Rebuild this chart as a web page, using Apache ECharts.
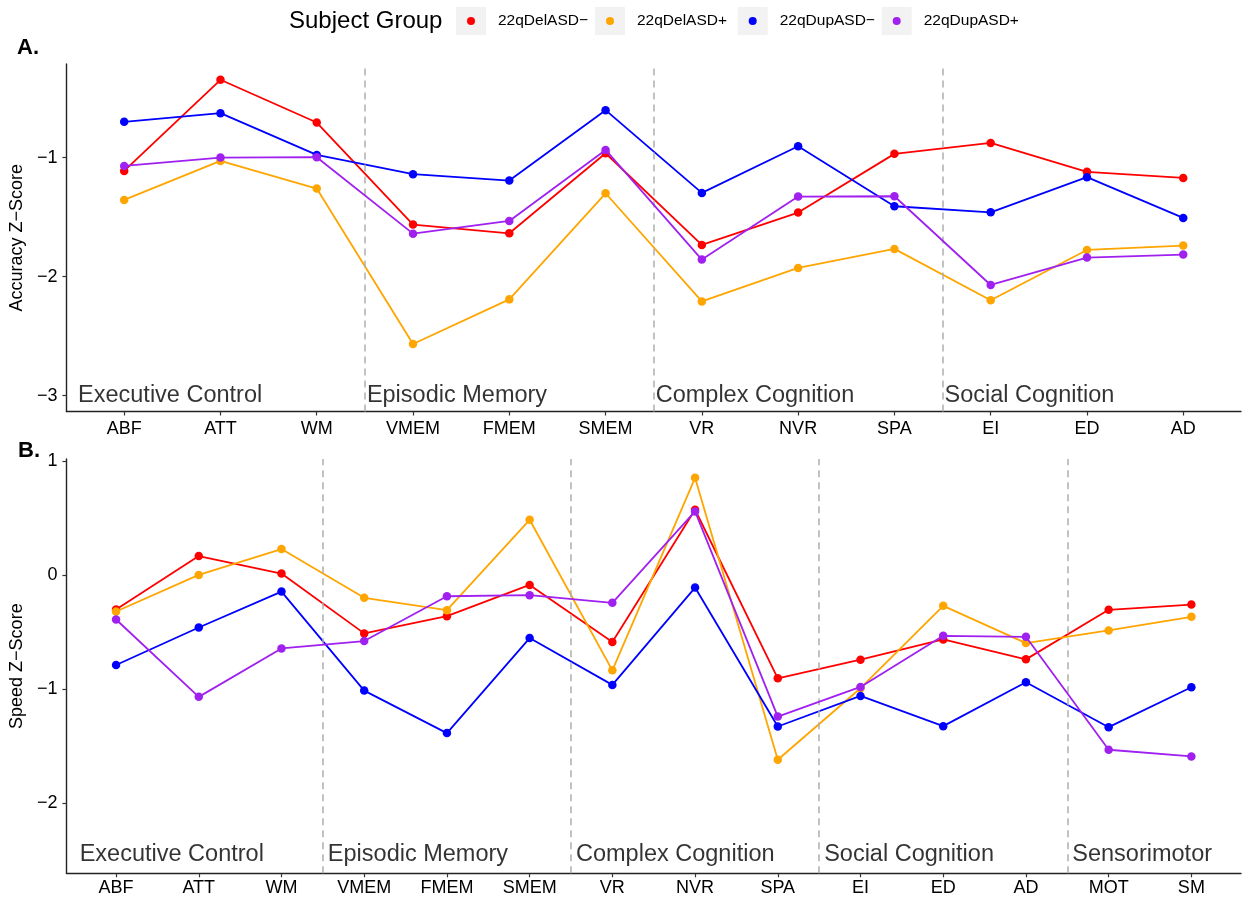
<!DOCTYPE html>
<html>
<head>
<meta charset="utf-8">
<title>Accuracy and Speed Z-Scores by Subject Group</title>
<script src="https://cdn.jsdelivr.net/npm/echarts@6/dist/echarts.min.js"></script>
<style>
  html, body { margin: 0; padding: 0; background: #ffffff; }
  #chart { width: 1246px; height: 902px; }
</style>
</head>
<body>
<div id="chart"></div>
<script>
// ---- Data -------------------------------------------------------------
const groupNames = ['22qDelASD\u2212', '22qDelASD+', '22qDupASD\u2212', '22qDupASD+'];
const groupColors = ['#FF0000', '#FFA500', '#0000FF', '#A020F0'];

// Panel A: accuracy
const accCategories = ['ABF', 'ATT', 'WM', 'VMEM', 'FMEM', 'SMEM', 'VR', 'NVR', 'SPA', 'EI', 'ED', 'AD'];
const accDomains = ['Executive Control', 'Episodic Memory', 'Complex Cognition', 'Social Cognition'];
const accDomainSizes = [3, 3, 3, 3];
const accDelNeg = [-1.112, -0.347, -0.706, -1.563, -1.636, -0.964, -1.734, -1.462, -0.969, -0.877, -1.120, -1.171];
const accDelPos = [-1.356, -1.028, -1.260, -2.566, -2.191, -1.300, -2.208, -1.927, -1.767, -2.199, -1.776, -1.739];
const accDupNeg = [-0.700, -0.627, -0.978, -1.140, -1.193, -0.602, -1.297, -0.905, -1.409, -1.460, -1.165, -1.507];
const accDupPos = [-1.070, -1.000, -0.997, -1.639, -1.532, -0.936, -1.857, -1.328, -1.325, -2.070, -1.840, -1.815];
const accTicks = [-3, -2, -1];
const accDomainLabelY = -3;

// Panel B: speed
const spdCategories = ['ABF', 'ATT', 'WM', 'VMEM', 'FMEM', 'SMEM', 'VR', 'NVR', 'SPA', 'EI', 'ED', 'AD', 'MOT', 'SM'];
const spdDomains = ['Executive Control', 'Episodic Memory', 'Complex Cognition', 'Social Cognition', 'Sensorimotor'];
const spdDomainSizes = [3, 3, 3, 3, 2];
const spdDelNeg = [-0.300, 0.169, 0.015, -0.510, -0.359, -0.085, -0.586, 0.575, -0.904, -0.741, -0.563, -0.738, -0.303, -0.257];
const spdDelPos = [-0.318, 0.003, 0.230, -0.198, -0.306, 0.487, -0.834, 0.855, -1.619, -0.991, -0.268, -0.595, -0.484, -0.365];
const spdDupNeg = [-0.787, -0.458, -0.143, -1.012, -1.385, -0.551, -0.962, -0.108, -1.327, -1.059, -1.324, -0.939, -1.333, -0.983];
const spdDupPos = [-0.388, -1.067, -0.642, -0.577, -0.184, -0.175, -0.242, 0.560, -1.240, -0.980, -0.531, -0.540, -1.531, -1.590];
const spdTicks = [-2, -1, 0, 1];
const spdDomainLabelY = -2.45;

// ---- Helpers ----------------------------------------------------------
const FONT = "'Liberation Sans', Arial, Helvetica, sans-serif";
const minus = v => (v < 0 ? '\u2212' : '') + Math.abs(v);

// Domain boundaries in category units (-0.5, 2.5, ...)
function boundaries(sizes) {
  const b = [-0.5];
  sizes.forEach(s => b.push(b[b.length - 1] + s));
  return b;
}

// Data range padded by 5% on each side
function paddedRange(seriesList, extra) {
  const all = [].concat(...seriesList, [extra]);
  const lo = Math.min(...all), hi = Math.max(...all);
  const pad = (hi - lo) * 0.05;
  return [lo - pad, hi + pad];
}

const panels = [
  {
    categories: accCategories, domains: accDomains, sizes: accDomainSizes,
    values: [accDelNeg, accDelPos, accDupNeg, accDupPos],
    ticks: accTicks, labelY: accDomainLabelY, yName: 'Accuracy Z\u2212Score',
    grid: { left: 66, right: 5, top: 64, height: 347.5 },
    xLabelMargin: 9, domainDistance: 2
  },
  {
    categories: spdCategories, domains: spdDomains, sizes: spdDomainSizes,
    values: [spdDelNeg, spdDelPos, spdDupNeg, spdDupPos],
    ticks: spdTicks, labelY: spdDomainLabelY, yName: 'Speed Z\u2212Score',
    grid: { left: 66, right: 5, top: 459, height: 414.3 },
    xLabelMargin: 6, domainDistance: 5
  }
];

const grids = [], xAxes = [], yAxes = [], series = [];

panels.forEach((p, pi) => {
  grids.push(p.grid);
  const n = p.categories.length;
  const idx = p.categories.map((c, i) => i);
  const axisLine = { show: true, onZero: false, lineStyle: { color: '#222222', width: 1.4 } };
  const axisTickBase = { show: true, length: 4, lineStyle: { color: '#333333', width: 1.2 } };

  xAxes.push({
    gridIndex: pi, type: 'value', min: -0.6, max: n - 1 + 0.6,
    axisLine: axisLine,
    axisTick: Object.assign({ customValues: idx }, axisTickBase),
    axisLabel: {
      customValues: idx, margin: p.xLabelMargin,
      formatter: v => p.categories[Math.round(v)],
      fontFamily: FONT, fontSize: 18, color: '#000000'
    },
    splitLine: { show: false }
  });

  const [yMin, yMax] = paddedRange(p.values, p.labelY);
  yAxes.push({
    gridIndex: pi, type: 'value', min: yMin, max: yMax,
    name: p.yName, nameLocation: 'middle', nameGap: 34,
    nameTextStyle: { fontFamily: FONT, fontSize: 18, color: '#000000' },
    axisLine: axisLine,
    axisTick: Object.assign({ customValues: p.ticks }, axisTickBase),
    axisLabel: {
      customValues: p.ticks, margin: 9, formatter: minus,
      fontFamily: FONT, fontSize: 18, color: '#000000'
    },
    splitLine: { show: false }
  });

  // Domain names along the bottom and dashed separators between domains
  const b = boundaries(p.sizes);
  series.push({
    type: 'scatter', xAxisIndex: pi, yAxisIndex: pi, silent: true,
    symbolSize: 0, itemStyle: { color: 'transparent' },
    data: p.domains.map((d, k) => ({ name: d, value: [b[k], p.labelY] })),
    label: {
      show: true, position: 'right', distance: p.domainDistance, formatter: '{b}',
      fontFamily: FONT, fontSize: 23.5, color: '#000000'
    },
    markLine: {
      silent: true, symbol: ['none', 'none'], animation: false,
      label: { show: false },
      lineStyle: { type: [7, 5], color: '#AFAFAF', width: 1.5 },
      data: b.slice(1, -1).map(x => ({ xAxis: x }))
    },
    z: 1
  });

  p.values.forEach((vals, si) => {
    series.push({
      name: groupNames[si], type: 'line', xAxisIndex: pi, yAxisIndex: pi,
      data: vals.map((v, i) => [i, v]),
      symbol: 'circle', symbolSize: 8.5, showSymbol: true,
      lineStyle: { color: groupColors[si], width: 1.8 },
      itemStyle: { color: groupColors[si] },
      emphasis: { disabled: true },
      z: 2 + si
    });
  });
});

// Legend: one entry per group; the dot sits centred in a light key box
const keyBoxLefts = [456, 595, 737.7, 881.7];
const keyBoxSize = [30, 28];
const dotSize = 8;
const legends = groupNames.map((name, i) => ({
  data: [name], left: keyBoxLefts[i] + keyBoxSize[0] / 2 - dotSize / 2, top: 13, padding: 0,
  icon: 'circle', itemWidth: dotSize, itemHeight: dotSize, selectedMode: false,
  formatter: '{gap| }{name|' + name + '}',
  textStyle: {
    fontFamily: FONT, fontSize: 15.5, color: '#000000',
    rich: {
      gap: { width: 18, fontSize: 15.5 },
      name: { fontFamily: FONT, fontSize: 15.5, color: '#000000' }
    }
  }
}));
const keyBoxes = keyBoxLefts.map(x => ({
  type: 'rect', left: x, top: 7, z: -1,
  shape: { width: keyBoxSize[0], height: keyBoxSize[1] },
  style: { fill: '#F2F2F2' }
}));

const chart = echarts.init(document.getElementById('chart'), null, { renderer: 'canvas' });
chart.setOption({
  animation: false,
  backgroundColor: '#ffffff',
  title: [
    { text: 'A.', left: 17, top: 37, padding: 0,
      textStyle: { fontFamily: FONT, fontSize: 22, fontWeight: 'bold', color: '#000000' } },
    { text: 'B.', left: 18, top: 440, padding: 0,
      textStyle: { fontFamily: FONT, fontSize: 22, fontWeight: 'bold', color: '#000000' } },
    { text: 'Subject Group', left: 289, top: 9, padding: 0,
      textStyle: { fontFamily: FONT, fontSize: 24, fontWeight: 'normal', color: '#000000' } }
  ],
  legend: legends,
  graphic: keyBoxes,
  grid: grids,
  xAxis: xAxes,
  yAxis: yAxes,
  series: series
});
</script>
</body>
</html>
